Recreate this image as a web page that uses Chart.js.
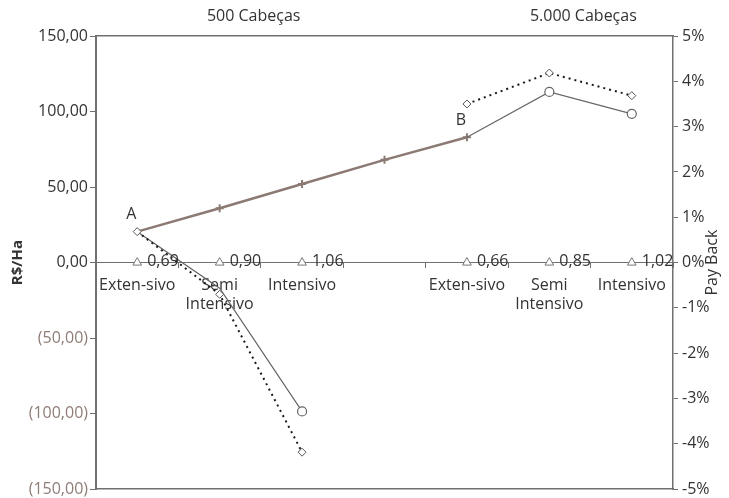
<!DOCTYPE html>
<html>
<head>
<meta charset="utf-8">
<script src="https://cdn.jsdelivr.net/npm/chart.js@4/dist/chart.umd.min.js"></script>
<style>
  html, body { margin: 0; padding: 0; background: #fff; }
  #wrap { width: 729px; height: 498px; }
</style>
</head>
<body>
<div id="wrap"><canvas id="chart"></canvas></div>
<script>
// categories along the x axis (two herd sizes, with an empty slot between them)
const categories = ['Exten-sivo', ['Semi', 'Intensivo'], 'Intensivo', '', 'Exten-sivo', ['Semi', 'Intensivo'], 'Intensivo'];
const groupLabels = ['', '500 Cabeças', '', '', '', '5.000 Cabeças', ''];

// R$/Ha series
const trendValues = [20.5, 36, 52, 68, 83, null, null];
const solidValues = [20.5, -17, -98.5, null, 83, 113, 98.5];
const dottedValues = [20.5, -21, -125.5, null, 105, 125.5, 110.5];

// pay back markers (drawn on the zero line) and their labels
const paybackBase = [0, 0, 0, null, 0, 0, 0];
const paybackLabels = ['0,69', '0,90', '1,06', null, '0,66', '0,85', '1,02'];
const pointNames = ['A', null, null, null, 'B', null, null];

// axis ranges
const leftRange = [-150, 150, 50];
const rightRange = [-5, 5, 1];

const textColor = '#333333';
const negColor = '#8f7d77';
const brown = '#8b7a74';
const axisGray = '#707070';
const fontSize = 16;

Chart.defaults.font.family = '"Open Sans", sans-serif';
Chart.defaults.font.size = fontSize;
Chart.defaults.color = textColor;

const fmtMoney = v => {
    const s = Math.abs(v).toFixed(2).replace('.', ',');
    return v < 0 ? '(' + s + ')' : s;
};

// labels: the pay back numbers, the A / B points and the right axis title
const markLabels = {
    id: 'markLabels',
    afterDatasetsDraw(chart) {
        const ctx = chart.ctx;
        ctx.save();
        ctx.font = fontSize + 'px "Open Sans", sans-serif';
        ctx.fillStyle = textColor;
        ctx.textBaseline = 'middle';
        ctx.textAlign = 'left';
        chart.getDatasetMeta(3).data.forEach((pt, i) => {
            if (paybackLabels[i] == null) return;
            ctx.fillText(paybackLabels[i], pt.x + 10, pt.y - 1);
        });
        ctx.textAlign = 'center';
        chart.getDatasetMeta(2).data.forEach((pt, i) => {
            if (!pointNames[i]) return;
            ctx.fillText(pointNames[i], pt.x - 6, pt.y - 17);
        });
        // "Pay Back" reads bottom-to-top, like the left title
        const area = chart.chartArea;
        ctx.translate(chart.scales.y2.right - 17, (area.top + area.bottom) / 2);
        ctx.rotate(-Math.PI / 2);
        ctx.fillText('Pay Back', 0, 0);
        ctx.restore();
    }
};

new Chart(document.getElementById('chart'), {
    type: 'line',
    data: {
        labels: categories,
        datasets: [
            {
                label: 'dotted',
                data: dottedValues,
                borderColor: '#1a1a1a',
                borderWidth: 2,
                borderDash: [2, 4],
                pointStyle: 'rectRot',
                pointRadius: 4,
                pointBackgroundColor: '#fff',
                pointBorderColor: '#555',
                pointBorderWidth: 1,
                tension: 0
            },
            {
                label: 'solid',
                data: solidValues,
                borderColor: '#666',
                borderWidth: 1.2,
                pointStyle: 'circle',
                pointRadius: [0, 0, 4.5, 0, 0, 4.5, 4.5],
                pointBackgroundColor: '#fff',
                pointBorderColor: '#666',
                pointBorderWidth: 1.2,
                tension: 0
            },
            {
                label: 'trend',
                data: trendValues,
                borderColor: brown,
                borderWidth: 2.5,
                pointStyle: 'cross',
                pointRadius: [0, 4, 4, 4, 4, 0, 0],
                pointBorderColor: brown,
                pointBorderWidth: 2,
                tension: 0
            },
            {
                label: 'payback',
                data: paybackBase,
                showLine: false,
                pointStyle: 'triangle',
                pointRadius: 5,
                pointBackgroundColor: '#fff',
                pointBorderColor: '#777',
                pointBorderWidth: 1
            }
        ]
    },
    options: {
        responsive: true,
        maintainAspectRatio: false,
        animation: false,
        layout: { padding: 0 },
        plugins: {
            legend: { display: false },
            tooltip: { enabled: false }
        },
        scales: {
            x: {
                position: { y: 0 },
                offset: true,
                grid: { drawOnChartArea: false, offset: true, tickLength: 5, color: axisGray },
                border: { color: axisGray, width: 1 },
                ticks: { autoSkip: false, maxRotation: 0, padding: 8, color: textColor }
            },
            x2: {
                position: 'top',
                offset: true,
                grid: { display: false, drawTicks: false },
                border: { color: axisGray, width: 1.5 },
                ticks: {
                    autoSkip: false, maxRotation: 0, padding: 10, color: textColor,
                    labelOffset: 34,
                    callback: (v, i) => groupLabels[i]
                },
                afterFit: s => { s.height = 36; }
            },
            x3: {
                position: 'bottom',
                offset: true,
                grid: { display: false, drawTicks: false },
                border: { color: axisGray, width: 1.5 },
                ticks: { display: false },
                afterFit: s => { s.height = 2; }
            },
            y: {
                position: 'left',
                min: leftRange[0], max: leftRange[1],
                grid: { drawOnChartArea: false, tickLength: 6, color: axisGray },
                border: { color: axisGray, width: 2 },
                ticks: {
                    stepSize: leftRange[2], padding: 2,
                    font: { lineHeight: 0.6 },
                    color: c => c.tick && c.tick.value < 0 ? negColor : textColor,
                    callback: v => fmtMoney(v)
                },
                title: {
                    display: true, text: 'R$/Ha', color: textColor,
                    font: { weight: 'bold', size: 15 },
                    padding: { top: 9, bottom: 0 }
                },
                afterFit: s => { s.width = 96; }
            },
            y2: {
                position: 'right',
                min: rightRange[0], max: rightRange[1],
                grid: { drawOnChartArea: false, tickLength: 5, color: axisGray },
                border: { color: axisGray, width: 1.5 },
                ticks: {
                    stepSize: rightRange[2], padding: 4, color: textColor,
                    font: { lineHeight: 0.6 },
                    callback: v => v + '%'
                },
                afterFit: s => { s.width = 56; }
            }
        }
    },
    plugins: [markLabels]
});
</script>
</body>
</html>
